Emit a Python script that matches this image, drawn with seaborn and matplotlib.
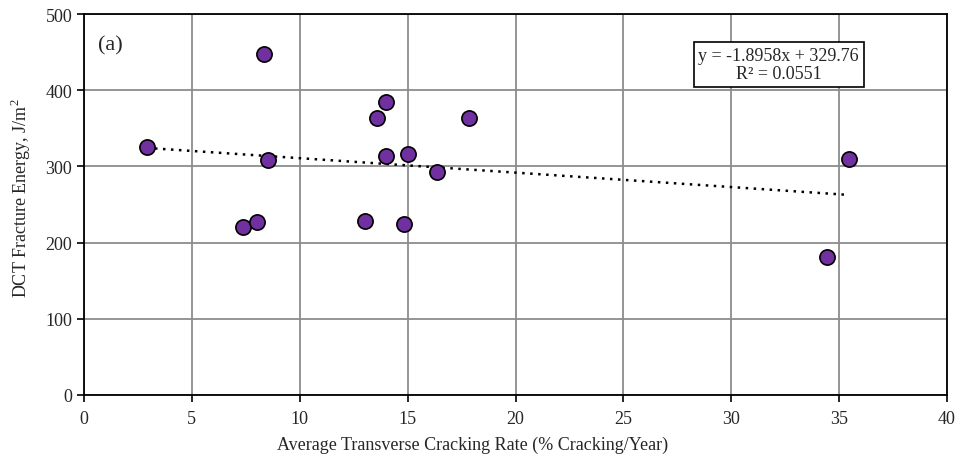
import matplotlib
matplotlib.use("Agg")
import matplotlib.pyplot as plt
import seaborn as sns
import numpy as np
import pandas as pd

# Data
cracking_rate = [2.92, 8.35, 8.52, 7.39, 8.02, 13.02, 13.58, 14.0, 14.0, 14.84, 15.01, 16.34, 17.85, 34.46, 35.44]
fracture_energy = [325, 448, 309, 220, 227, 229, 364, 385, 314, 225, 316, 292, 364, 181, 310]
trend_slope = -1.8958
trend_intercept = 329.76
r_squared = 0.0551
x_ticks = [0, 5, 10, 15, 20, 25, 30, 35, 40]
y_ticks = [0, 100, 200, 300, 400, 500]

df = pd.DataFrame({"x": cracking_rate, "y": fracture_energy})

sns.set_style("white")
plt.rcParams["font.family"] = ["Liberation Serif", "DejaVu Serif"]
plt.rcParams["mathtext.fontset"] = "custom"
plt.rcParams["mathtext.rm"] = "Liberation Serif"

fig = plt.figure(figsize=(9.58, 4.56), dpi=100)
ax = fig.add_axes([84 / 958, 1 - 396 / 456, (947 - 84) / 958, (396 - 15) / 456])

# Trendline
x_line = np.array([min(cracking_rate), max(cracking_rate) - 0.12])
trend_df = pd.DataFrame({"x": x_line, "y": trend_slope * x_line + trend_intercept})
sns.lineplot(data=trend_df, x="x", y="y", ax=ax, color="black", linestyle=(0, (1, 2.2)),
             linewidth=1.8, zorder=2)

sns.scatterplot(data=df, x="x", y="y", ax=ax, color="#7030A0", edgecolor="black",
                linewidth=1.2, s=120, zorder=3)

ax.set_xlim(0, 40)
ax.set_ylim(0, 500)
ax.set_xticks(x_ticks)
ax.set_yticks(y_ticks)
ax.tick_params(axis="both", labelsize=13, direction="out", length=5, width=1.2,
               color="black", bottom=True, left=True)
ax.tick_params(axis="x", pad=6)
ax.grid(True, color="#8c8c8c", linewidth=1.3)
ax.set_axisbelow(True)
for s in ax.spines.values():
    s.set_color("black")
    s.set_linewidth(1.3)

ax.set_xlabel("Average Transverse Cracking Rate (% Cracking/Year)", fontsize=13)
ax.set_ylabel("DCT Fracture Energy, J/m$^2$", fontsize=13)
ax.xaxis.set_label_coords(0.45, -0.108)
ax.yaxis.set_label_coords(-0.059, 0.52)

ax.text(0.016, 0.92, "(a)", transform=ax.transAxes, fontsize=16, va="center", ha="left")
ax.text(32.2, 434, f"y = {trend_slope}x + {trend_intercept}\nR² = {r_squared}",
        fontsize=13, ha="center", va="center", linespacing=1.12,
        bbox=dict(boxstyle="square,pad=0.25", facecolor="white", edgecolor="black", linewidth=1.2))

fig.savefig("out.png", dpi=100)
